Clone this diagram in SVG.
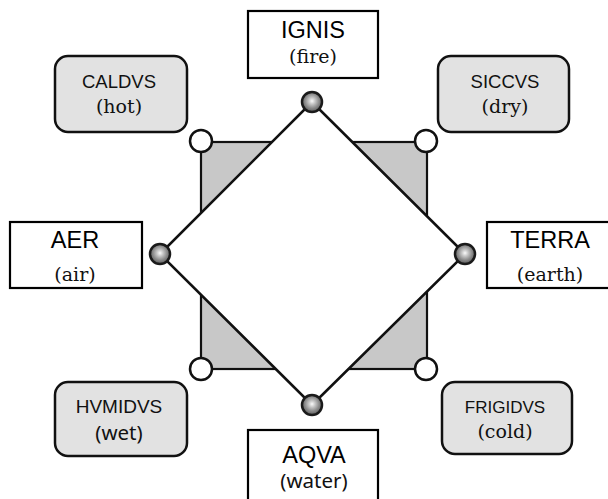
<svg xmlns="http://www.w3.org/2000/svg" width="608" height="499" viewBox="0 0 608 499">
<style>
.el{fill:#fff;stroke:#000;stroke-width:2.2}
.q{fill:#e2e2e2;stroke:#111;stroke-width:2.5}
.nm{font-family:"Liberation Sans",Arial,sans-serif;font-size:23.5px;fill:#000;text-anchor:middle}
.qn{font-family:"Liberation Sans",Arial,sans-serif;font-size:18.5px;fill:#111;text-anchor:middle}
.sf{font-family:"DejaVu Serif","Liberation Serif",serif;font-size:19px;fill:#111;text-anchor:middle}
.ss{font-family:"Noto Sans","DejaVu Sans",sans-serif;font-size:20.5px;fill:#111;text-anchor:middle}
.dot{fill:url(#g);stroke:#1a1a1a;stroke-width:2.5}
.corner{fill:#fff;stroke:#111;stroke-width:2.5}
</style>
<defs>
<radialGradient id="g" cx="0.5" cy="0.45" r="0.55">
<stop offset="0" stop-color="#fafafa"/>
<stop offset="0.3" stop-color="#c4c4c4"/>
<stop offset="0.65" stop-color="#8a8a8a"/>
<stop offset="1" stop-color="#5a5a5a"/>
</radialGradient>
<clipPath id="clipAer"><rect x="0" y="200" width="608" height="84"/></clipPath>
</defs>
<rect x="0" y="0" width="608" height="499" fill="#fff"/>
<g id="square">
<rect x="201" y="142" width="226" height="227" fill="#c8c8c8" stroke="#111" stroke-width="2.2"/>
</g>
<g id="connectors">
<polygon points="312,102 465,254 312,405 160,254" fill="#fff" stroke="#111" stroke-width="2.5" stroke-linejoin="round"/>
</g>
<g id="corners">
<circle class="corner" cx="201" cy="141" r="11"/>
<circle class="corner" cx="426" cy="141" r="11"/>
<circle class="corner" cx="201" cy="369" r="11"/>
<circle class="corner" cx="426" cy="369" r="11"/>
</g>
<g id="ignis">
<rect class="el" x="248" y="11" width="130" height="67"/>
<text class="nm" x="313" y="38">IGNIS</text>
<text class="sf" x="313" y="63">(fire)</text>
<circle class="dot" cx="312" cy="102" r="10"/>
</g>
<g id="aer">
<rect class="el" x="10" y="222" width="132" height="66"/>
<text class="nm" x="75" y="248">AER</text>
<text class="sf" x="75" y="281" clip-path="url(#clipAer)">(air)</text>
<circle class="dot" cx="160" cy="254" r="10"/>
</g>
<g id="terra">
<rect class="el" x="487" y="222" width="130" height="66"/>
<text class="nm" x="550" y="248">TERRA</text>
<text class="sf" x="550" y="281" clip-path="url(#clipAer)">(earth)</text>
<circle class="dot" cx="465" cy="254" r="10"/>
</g>
<g id="aqva">
<rect class="el" x="248" y="430" width="130" height="80"/>
<text class="nm" x="314" y="463">AQVA</text>
<text class="ss" x="314" y="488">(water)</text>
<circle class="dot" cx="312" cy="405" r="10"/>
</g>
<g id="caldvs">
<rect class="q" x="55" y="56" width="132" height="76" rx="13"/>
<text class="qn" x="119" y="88">CALDVS</text>
<text class="sf" x="119" y="113">(hot)</text>
</g>
<g id="siccvs">
<rect class="q" x="438" y="56" width="131" height="76" rx="13"/>
<text class="qn" x="505" y="88">SICCVS</text>
<text class="sf" x="505" y="113">(dry)</text>
</g>
<g id="hvmidvs">
<rect class="q" x="55" y="382" width="132" height="74" rx="13"/>
<text class="qn" x="119" y="413" style="font-size:19px">HVMIDVS</text>
<text class="ss" x="119" y="440">(wet)</text>
</g>
<g id="frigidvs">
<rect class="q" x="442" y="382" width="130" height="72" rx="13"/>
<text class="qn" x="505" y="413" style="font-size:17px">FRIGIDVS</text>
<text class="sf" x="505" y="438">(cold)</text>
</g>
</svg>
